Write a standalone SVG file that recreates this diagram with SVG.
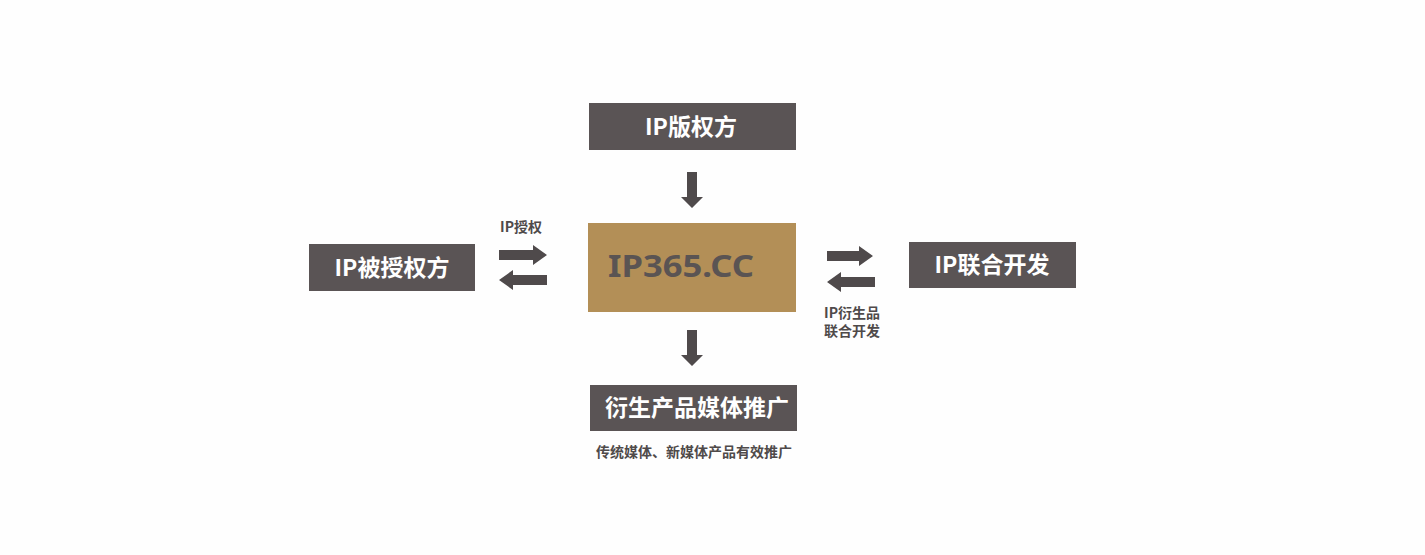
<svg xmlns="http://www.w3.org/2000/svg" width="1425" height="555" viewBox="0 0 1425 555">
<style>
.box{fill:#5a5455}
.lbl{fill:#fff;font-family:"Noto Sans CJK SC","Noto Sans",sans-serif;font-weight:bold;font-size:23px;text-anchor:middle}
.sm{fill:#4f4a4a;font-family:"Noto Sans CJK SC","Noto Sans",sans-serif;font-weight:bold;font-size:14px;text-anchor:middle}
.arr{fill:#4f4a4b}
</style>
<rect width="1425" height="555" fill="#fefefe"/>
<g id="top">
<rect class="box" x="589" y="103" width="207" height="47"/>
<text class="lbl" x="691" y="135">IP版权方</text>
</g>
<g id="center">
<rect x="588" y="223" width="208" height="89" fill="#b38f57"/>
<text x="608" y="277" font-family="'Noto Sans','Open Sans',sans-serif" font-weight="bold" font-size="31" fill="#5a5453" textLength="146" lengthAdjust="spacingAndGlyphs">IP365.CC</text>
</g>
<g id="left">
<rect class="box" x="309" y="244" width="166" height="47"/>
<text class="lbl" x="392" y="276">IP被授权方</text>
<text class="sm" x="521" y="232">IP授权</text>
</g>
<g id="right">
<rect class="box" x="909" y="242" width="167" height="46"/>
<text class="lbl" x="992" y="273">IP联合开发</text>
<text class="sm" x="852" y="318">IP衍生品</text>
<text class="sm" x="852" y="336">联合开发</text>
</g>
<g id="bottom">
<rect class="box" x="590" y="385" width="207" height="46"/>
<text class="lbl" x="697" y="416">衍生产品媒体推广</text>
<text class="sm" x="694" y="457" font-size="14.5">传统媒体、新媒体产品有效推广</text>
</g>
<g id="connectors">
<polygon class="arr" points="687,172 697,172 697,197 703,197 692,208 681,197 687,197"/>
<polygon class="arr" points="687,330 697,330 697,355 703,355 692,366 681,355 687,355"/>
<polygon class="arr" points="499,250 533,250 533,245 547,255 533,265 533,260 499,260"/>
<polygon class="arr" points="547,275 513,275 513,270 499,280 513,290 513,285 547,285"/>
<polygon class="arr" points="827,251 859,251 859,246 873,256 859,266 859,261 827,261"/>
<polygon class="arr" points="875,277 841,277 841,272 827,282 841,292 841,287 875,287"/>
</g>
</svg>
